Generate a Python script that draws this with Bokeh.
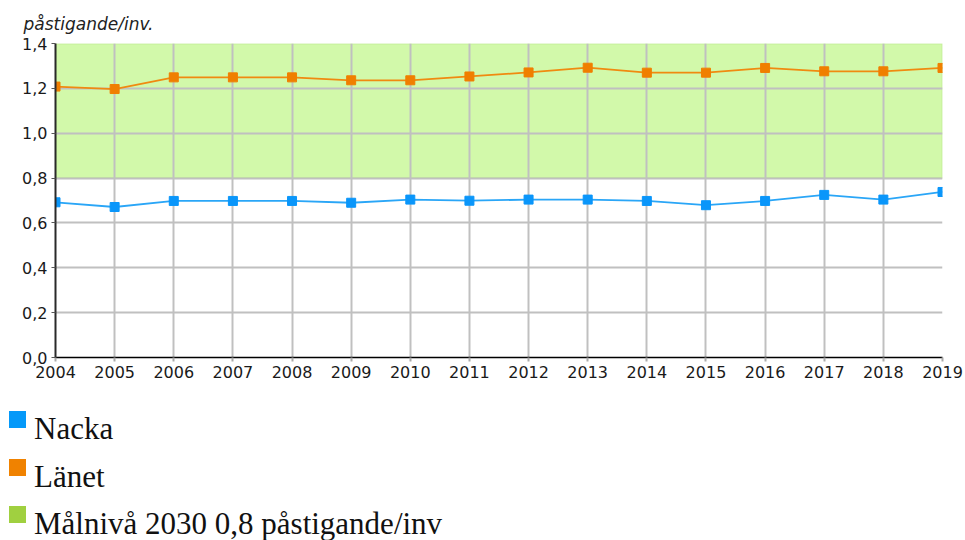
from bokeh.plotting import figure
from bokeh.models import Range1d, FixedTicker, BoxAnnotation, ColumnDataSource, Div
from bokeh.layouts import column
from bokeh.embed import file_html
from bokeh.resources import INLINE

# ---- data ----
years = list(range(2004, 2020))
nacka = [0.692, 0.671, 0.698, 0.698, 0.698, 0.690, 0.704, 0.699, 0.704, 0.704,
         0.698, 0.679, 0.698, 0.725, 0.704, 0.738]
lanet = [1.208, 1.197, 1.249, 1.249, 1.249, 1.236, 1.236, 1.253, 1.271, 1.292,
         1.270, 1.270, 1.291, 1.276, 1.276, 1.291]
target_low = 0.8
target_high = 1.4
y_ticks = [0.0, 0.2, 0.4, 0.6, 0.8, 1.0, 1.2, 1.4]
y_tick_labels = ["0,0", "0,2", "0,4", "0,6", "0,8", "1,0", "1,2", "1,4"]
y_title = "påstigande/inv."
legend_labels = ["Nacka", "Länet", "Målnivå 2030 0,8 påstigande/inv"]

# ---- styles ----
NACKA_LINE = "#2aa6f7"
NACKA_MARK = "#0a96fa"
LANET_LINE = "#f08a10"
LANET_MARK = "#f07f00"
BAND_FILL = "#d2f9aa"
BAND_LINE = "#a8d870"
legend_colors = ["#0599f9", "#f08200", "#a0d040"]
GRID = "#c0c0c0"
TICK_FONT = "DejaVu Sans"

W = 964
H_MAIN = 395
H_LEG = 145
FRAME_L, FRAME_R, FRAME_T, FRAME_B = 55, 942, 43, 357

p = figure(width=W, height=H_MAIN, output_backend="svg", toolbar_location=None,
           x_range=Range1d(years[0], years[-1]), y_range=Range1d(0, 1.4),
           min_border_left=FRAME_L, min_border_right=W - FRAME_R,
           min_border_top=FRAME_T, min_border_bottom=H_MAIN - FRAME_B, title=y_title)
p.outline_line_color = None
p.background_fill_color = "white"

p.title.align = "left"
p.title.offset = -32
p.title.text_font = TICK_FONT
p.title.text_font_size = "17px"
p.title.text_font_style = "italic"
p.title.text_color = "#222222"
p.title.standoff = 20

band = BoxAnnotation(bottom=target_low, top=target_high, fill_color=BAND_FILL,
                     fill_alpha=1.0, line_color=BAND_LINE, line_width=2,
                     level="image")
p.add_layout(band)

p.xaxis.ticker = FixedTicker(ticks=years)
p.yaxis.ticker = FixedTicker(ticks=y_ticks)
p.yaxis.major_label_overrides = {t: l for t, l in zip(y_ticks, y_tick_labels)}

for ax in (p.xaxis, p.yaxis):
    ax.major_label_text_font = TICK_FONT
    ax.major_label_text_font_size = "16px"
    ax.major_label_text_color = "#1a1a1a"
    ax.minor_tick_line_color = None
    ax.major_tick_in = 0
    ax.major_tick_out = 4
    ax.major_label_standoff = 4

p.yaxis.axis_line_color = "#2a2a2a"
p.yaxis.axis_line_width = 2
p.yaxis.major_tick_line_color = "#555555"
p.xaxis.axis_line_color = "#000000"
p.xaxis.axis_line_width = 1.5
p.xaxis.major_tick_line_color = "#aaaaaa"
p.xaxis.major_tick_line_width = 2

p.xgrid.grid_line_color = GRID
p.ygrid.grid_line_color = GRID
p.xgrid.grid_line_width = 2
p.ygrid.grid_line_width = 2

src = ColumnDataSource(dict(year=years, nacka=nacka, lanet=lanet))
p.line("year", "lanet", source=src, line_color=LANET_LINE, line_width=1.8)
p.scatter("year", "lanet", source=src, marker="square", size=9,
          fill_color=LANET_MARK, line_color=LANET_MARK)
p.line("year", "nacka", source=src, line_color=NACKA_LINE, line_width=1.8)
p.scatter("year", "nacka", source=src, marker="square", size=9,
          fill_color=NACKA_MARK, line_color=NACKA_MARK)

# ---- legend (below the chart) ----
ROW_STEP = 47.5
rows = []
for i, (lab, col) in enumerate(zip(legend_labels, legend_colors)):
    sq_top = 16 + ROW_STEP * i
    tx_top = 18 + ROW_STEP * i
    rows.append(
        f'<div style="position:absolute;left:9px;top:{sq_top}px;width:17px;'
        f'height:17px;background:{col};"></div>'
        f'<div style="position:absolute;left:34px;top:{tx_top}px;line-height:31px;'
        f'white-space:nowrap;">{lab}</div>')
legend_html = (f'<div style="position:relative;width:{W}px;height:{H_LEG}px;'
               f'font-family:\'Liberation Serif\',serif;font-size:31px;color:#111111;">'
               + "".join(rows) + '</div>')
legend = Div(text=legend_html, width=W, height=H_LEG, margin=0)

layout = column(p, legend, spacing=0)
open("out.html", "w").write(file_html(layout, INLINE))
